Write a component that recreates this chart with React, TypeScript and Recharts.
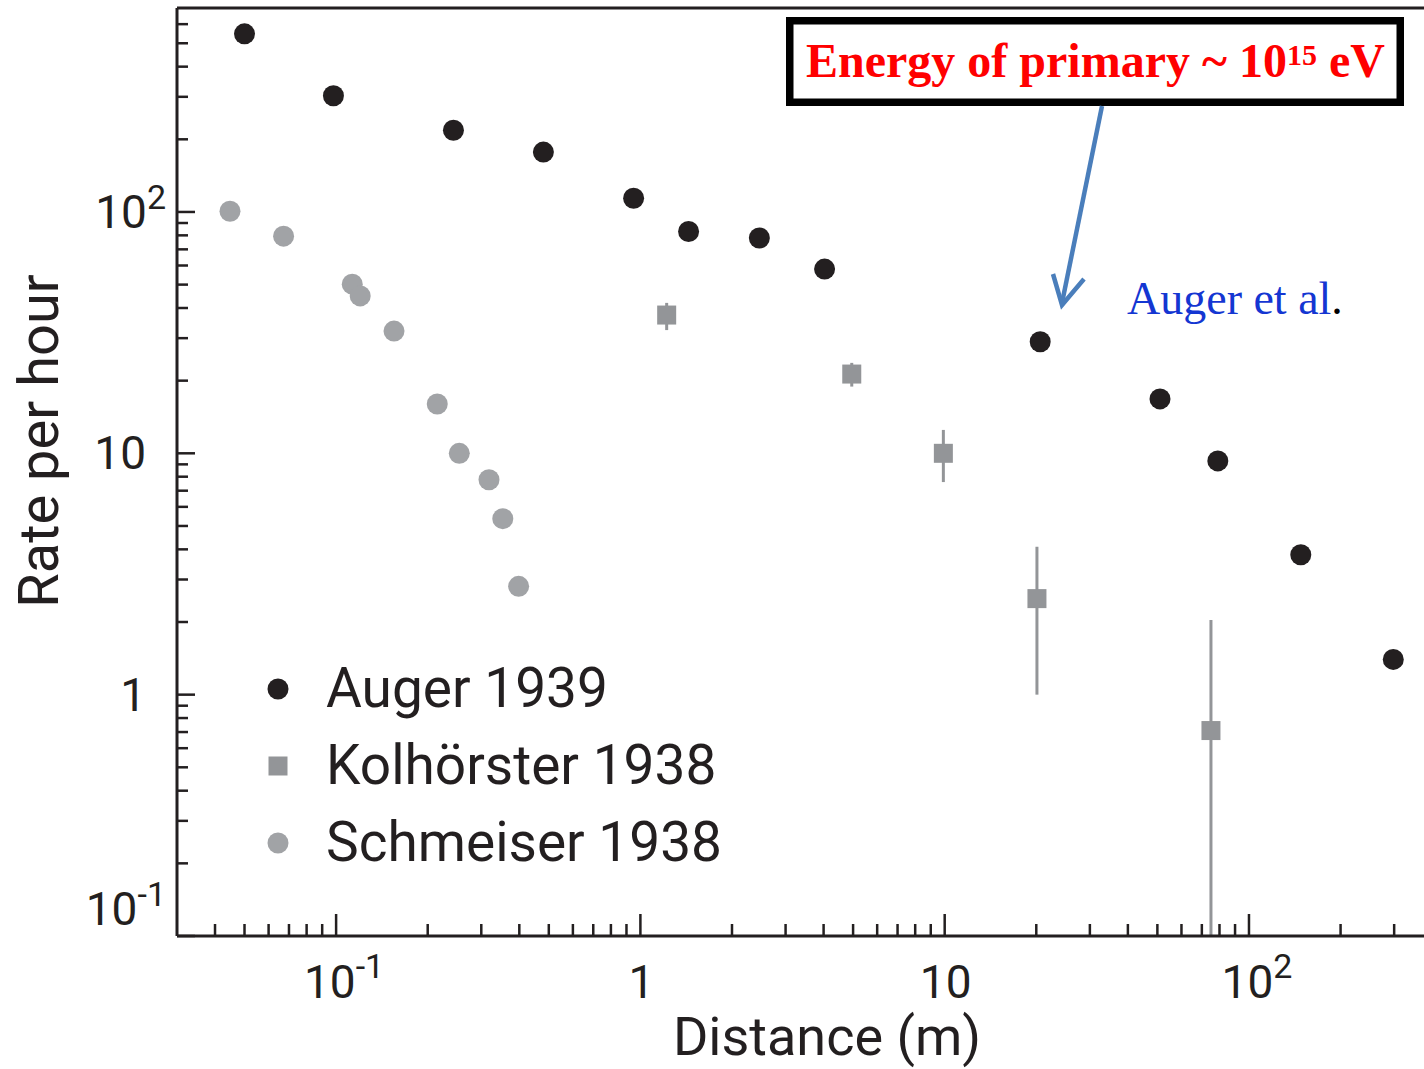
import {
	ErrorBar,
	Legend,
	ReferenceLine,
	Scatter,
	ScatterChart,
	XAxis,
	YAxis,
} from "recharts"

// Auger 1939 (black dots)
const augerX = [0.05, 0.098, 0.243, 0.48, 0.95, 1.44, 2.46, 4.03, 20.6, 51, 79, 148, 298]
const augerY = [547, 303, 218, 177, 114, 83, 78, 58, 29, 16.8, 9.3, 3.8, 1.4]

// Kolhörster 1938 (grey squares with error bars)
const kolX = [1.22, 4.95, 9.9, 20.1, 75]
const kolY = [37.4, 21.3, 10, 2.5, 0.71]
const kolLow = [32.4, 18.9, 7.6, 1.0, 0.1]
const kolHigh = [42, 23.7, 12.5, 4.1, 2.04]

// Schmeiser 1938 (light grey dots)
const schX = [0.0448, 0.0672, 0.113, 0.12, 0.155, 0.215, 0.254, 0.318, 0.353, 0.398]
const schY = [100.7, 79.4, 50.2, 44.9, 32.1, 16.0, 10, 7.77, 5.36, 2.81]

// axes
const xDomain = [0.03, 376]
const yDomain = [0.1, 700]
const majorTicks = [0.1, 1, 10, 100]
const majorBase = ["10", "1", "10", "10"]
const majorSup = ["-1", "", "", "2"]
const xMinor = [
	0.04, 0.05, 0.06, 0.07, 0.08, 0.09, 0.2, 0.3, 0.4, 0.5, 0.6, 0.7, 0.8, 0.9, 2, 3, 4, 5, 6,
	7, 8, 9, 20, 30, 40, 50, 60, 70, 80, 90, 200, 300,
]
const yMinor = [
	0.2, 0.3, 0.4, 0.5, 0.6, 0.7, 0.8, 0.9, 2, 3, 4, 5, 6, 7, 8, 9, 20, 30, 40, 50, 60, 70, 80,
	90, 200, 300, 400, 500, 600,
]

const INK = "#231f20"
const FONT = "Roboto, 'Open Sans', sans-serif"
const SERIF = "'Liberation Serif', 'Times New Roman', serif"

const augerData = augerX.map((x, i) => ({ x, y: augerY[i] }))
const kolData = kolX.map((x, i) => ({
	x,
	y: kolY[i],
	err: [kolY[i] - kolLow[i], kolHigh[i] - kolY[i]],
}))
const schData = schX.map((x, i) => ({ x, y: schY[i] }))

const XTick = (props: any) => {
	const { x, y, payload } = props
	const i = majorTicks.indexOf(payload.value)
	const major = i >= 0
	const sup = major ? majorSup[i] : ""
	return (
		<g>
			<line x1={x} x2={x} y1={y} y2={y - (major ? 22 : 12)} stroke={INK} strokeWidth={2.5} />
			{major && (
				<text
					x={x + (sup ? 8 : 1)}
					y={y + 62}
					textAnchor="middle"
					fill={INK}
					fontFamily={FONT}
					fontSize={46}
				>
					{majorBase[i]}
					{sup && (
						<tspan fontSize={34} dy={-20}>
							{sup}
						</tspan>
					)}
				</text>
			)}
		</g>
	)
}

const YTick = (props: any) => {
	const { x, y, payload } = props
	const i = majorTicks.indexOf(payload.value)
	const major = i >= 0
	const sup = major ? majorSup[i] : ""
	return (
		<g>
			<line x1={x} x2={x + (major ? 18 : 11)} y1={y} y2={y} stroke={INK} strokeWidth={2.5} />
			{major && (
				<text
					x={sup ? x - 11 : x - 31}
					y={y + (payload.value === yDomain[0] ? -11 : 16)}
					textAnchor="end"
					fill={INK}
					fontFamily={FONT}
					fontSize={46}
				>
					{majorBase[i]}
					{sup && (
						<tspan fontSize={34} dy={-19}>
							{sup}
						</tspan>
					)}
				</text>
			)}
		</g>
	)
}

const LegendBox = ({ payload }: any) => (
	<div style={{ fontFamily: FONT, fontSize: 55, color: INK }}>
		{(payload ?? []).map((entry: any) => (
			<div key={entry.value} style={{ display: "flex", alignItems: "center", height: 77 }}>
				<svg width={50} height={50}>
					{entry.type === "square" ? (
						<rect x={15.5} y={15.5} width={19} height={19} fill={entry.color} />
					) : (
						<circle cx={25} cy={25} r={10.5} fill={entry.color} />
					)}
				</svg>
				<span style={{ marginLeft: 23, lineHeight: 1 }}>{entry.value}</span>
			</div>
		))}
	</div>
)

const App = () => {
	return (
		<div
			style={{
				position: "absolute",
				left: 0,
				top: 0,
				width: 1424,
				height: 1069,
				background: "#fff",
				overflow: "hidden",
			}}
		>
			<ScatterChart width={1424} height={1069} margin={{ top: 8, right: 0, bottom: 0, left: 0 }}>
				<XAxis
					type="number"
					dataKey="x"
					scale="log"
					domain={xDomain}
					allowDataOverflow
					ticks={[...majorTicks, ...xMinor]}
					interval={0}
					tickSize={0}
					tickMargin={0}
					tickLine={false}
					tick={(p: any) => <XTick {...p} />}
					axisLine={{ stroke: INK, strokeWidth: 3 }}
					height={133}
					label={{
						content: () => (
							<text x={827} y={1055} textAnchor="middle" fill={INK} fontFamily={FONT} fontSize={54}>
								Distance (m)
							</text>
						),
					}}
				/>
				<YAxis
					type="number"
					dataKey="y"
					scale="log"
					domain={yDomain}
					allowDataOverflow
					ticks={[...majorTicks, ...yMinor]}
					interval={0}
					tickSize={0}
					tickMargin={0}
					tickLine={false}
					tick={(p: any) => <YTick {...p} />}
					axisLine={{ stroke: INK, strokeWidth: 3 }}
					width={177}
					label={{
						content: () => (
							<text
								transform="translate(58 441) rotate(-90)"
								textAnchor="middle"
								fill={INK}
								fontFamily={FONT}
								fontSize={56}
							>
								Rate per hour
							</text>
						),
					}}
				/>
				<ReferenceLine y={yDomain[1]} stroke={INK} strokeWidth={3} />
				<Scatter
					name="Schmeiser 1938"
					data={schData}
					fill="#a1a3a6"
					legendType="circle"
					isAnimationActive={false}
					shape={(p: any) => <circle cx={p.cx} cy={p.cy} r={10.5} fill="#a1a3a6" />}
				/>
				<Scatter
					name="Kolhörster 1938"
					data={kolData}
					fill="#939598"
					legendType="square"
					isAnimationActive={false}
					shape={(p: any) => (
						<rect x={p.cx - 9.5} y={p.cy - 9.5} width={19} height={19} fill="#939598" />
					)}
				>
					<ErrorBar dataKey="err" direction="y" width={0} stroke="#939598" strokeWidth={3} />
				</Scatter>
				<Scatter
					name="Auger 1939"
					data={augerData}
					fill={INK}
					legendType="circle"
					isAnimationActive={false}
					shape={(p: any) => <circle cx={p.cx} cy={p.cy} r={10.5} fill={INK} />}
				/>
				<Legend
					layout="vertical"
					align="center"
					verticalAlign="middle"
					content={(p: any) => <LegendBox {...p} />}
					wrapperStyle={{ left: 253, top: 650, width: 520 }}
				/>
			</ScatterChart>
			<svg
				width={1424}
				height={1069}
				style={{ position: "absolute", left: 0, top: 0, pointerEvents: "none" }}
			>
				<rect x={789.75} y={20.75} width={610.5} height={81.5} fill="#fff" stroke="#000" strokeWidth={7.5} />
				<text x={806} y={77} fill="#ff0000" fontFamily={SERIF} fontWeight="bold" fontSize={48}>
					Energy of primary ~ 10
					<tspan fontSize={30} dy={-12}>
						15
					</tspan>
					<tspan dy={12}> eV</tspan>
				</text>
				<line x1={1102} y1={106} x2={1062} y2={303} stroke="#4a7ebb" strokeWidth={4.5} />
				<polyline points="1053,274 1062,305 1084,279" fill="none" stroke="#4a7ebb" strokeWidth={4.5} />
				<text x={1127} y={314} fill="#1436d2" fontFamily={SERIF} fontSize={46}>
					Auger et al<tspan fill="#000">.</tspan>
				</text>
			</svg>
		</div>
	)
}

export default App
